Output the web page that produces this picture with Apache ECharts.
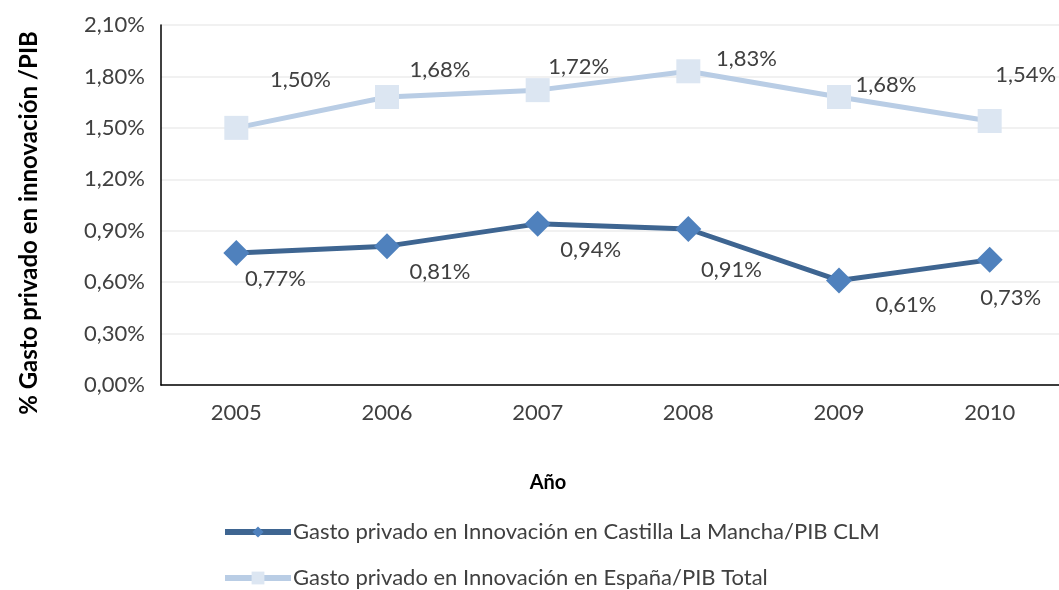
<!DOCTYPE html>
<html>
<head>
    <meta charset="utf-8">
    <title>Gasto privado en innovación</title>
    <script src="https://cdn.jsdelivr.net/npm/echarts@6/dist/echarts.min.js"></script>
    <style>
        html, body { margin: 0; padding: 0; background: #fff; }
    </style>
</head>
<body>
<div id="main" style="width: 1059px;height:590px;"></div>
<script type="text/javascript">
    // datos (en %)
    var years = ['2005', '2006', '2007', '2008', '2009', '2010'];
    var clmValues = [0.77, 0.81, 0.94, 0.91, 0.61, 0.73];
    var espValues = [1.50, 1.68, 1.72, 1.83, 1.68, 1.54];
    var clmName = 'Gasto privado en Innovación en Castilla La Mancha/PIB CLM';
    var espName = 'Gasto privado en Innovación en España/PIB Total';

    // desplazamiento de las etiquetas (solo estilo)
    var clmLabelOffset = [[39, 26], [53, 26], [53, 26], [43, 41], [67, 24], [21, 38]];
    var espLabelOffset = [[64, -48], [53, -27], [41, -23], [58, -12], [47, -12], [36, -46]];

    function pct(v) {
        return v.toFixed(2).replace('.', ',') + '%';
    }

    function buildData(values, offsets) {
        var out = [];
        for (var i = 0; i < values.length; i++) {
            out.push({
                value: values[i],
                label: { offset: offsets[i] }
            });
        }
        return out;
    }

    var font = 'Lato, "Open Sans", sans-serif';
    var legendText = { fontSize: 22, color: '#404040', fontFamily: font, padding: [0, 0, 0, -3] };
    var myChart = echarts.init(document.getElementById('main'));
    var option = {
        animation: false,
        textStyle: { fontFamily: font },
        grid: { left: 161, top: 25, width: 904, height: 360, containLabel: false, outerBoundsMode: 'none' },
        legend: [
            {
                left: 222, top: 521, padding: 0,
                itemWidth: 66, itemHeight: 14,
                lineStyle: { width: 6 },
                textStyle: legendText,
                data: [clmName]
            },
            {
                left: 222, top: 567, padding: 0,
                itemWidth: 66, itemHeight: 16,
                lineStyle: { width: 6 },
                textStyle: legendText,
                data: [espName]
            }
        ],
        xAxis: {
            type: 'category',
            data: years,
            name: 'Año',
            nameLocation: 'middle',
            nameGap: 88,
            nameTextStyle: { fontSize: 20, fontWeight: 'bold', color: '#000', fontFamily: font, padding: [0, 130, 0, 0] },
            axisLine: { lineStyle: { color: '#000', width: 1.5 } },
            axisTick: { show: false },
            axisLabel: { fontSize: 22, color: '#404040', margin: 17 }
        },
        yAxis: {
            type: 'value',
            min: 0,
            max: 2.1,
            interval: 0.3,
            name: '% Gasto privado en innovación /PIB',
            nameLocation: 'middle',
            nameGap: 120,
            nameTextStyle: { fontSize: 24, fontWeight: 'bold', color: '#000', fontFamily: font, padding: [0, 36, 0, 0] },
            axisLine: { show: true, lineStyle: { color: '#000', width: 1.5 } },
            axisTick: { show: false },
            axisLabel: { fontSize: 22, color: '#404040', margin: 16, formatter: pct },
            splitLine: { lineStyle: { color: '#ececec', width: 1.5 } }
        },
        series: [
            {
                name: clmName,
                type: 'line',
                data: buildData(clmValues, clmLabelOffset),
                symbol: 'diamond',
                symbolSize: 26,
                itemStyle: { color: '#4f81bd' },
                lineStyle: { color: '#3e6591', width: 5 },
                label: {
                    show: true,
                    position: 'inside',
                    fontSize: 22,
                    color: '#404040',
                    formatter: function (p) { return pct(p.value); }
                },
                z: 3
            },
            {
                name: espName,
                type: 'line',
                data: buildData(espValues, espLabelOffset),
                symbol: 'rect',
                symbolSize: 24,
                itemStyle: { color: '#dce6f2' },
                lineStyle: { color: '#b9cde5', width: 5 },
                label: {
                    show: true,
                    position: 'inside',
                    fontSize: 22,
                    color: '#404040',
                    formatter: function (p) { return pct(p.value); }
                },
                z: 2
            }
        ]
    };
    myChart.setOption(option);
</script>
</body>
</html>
